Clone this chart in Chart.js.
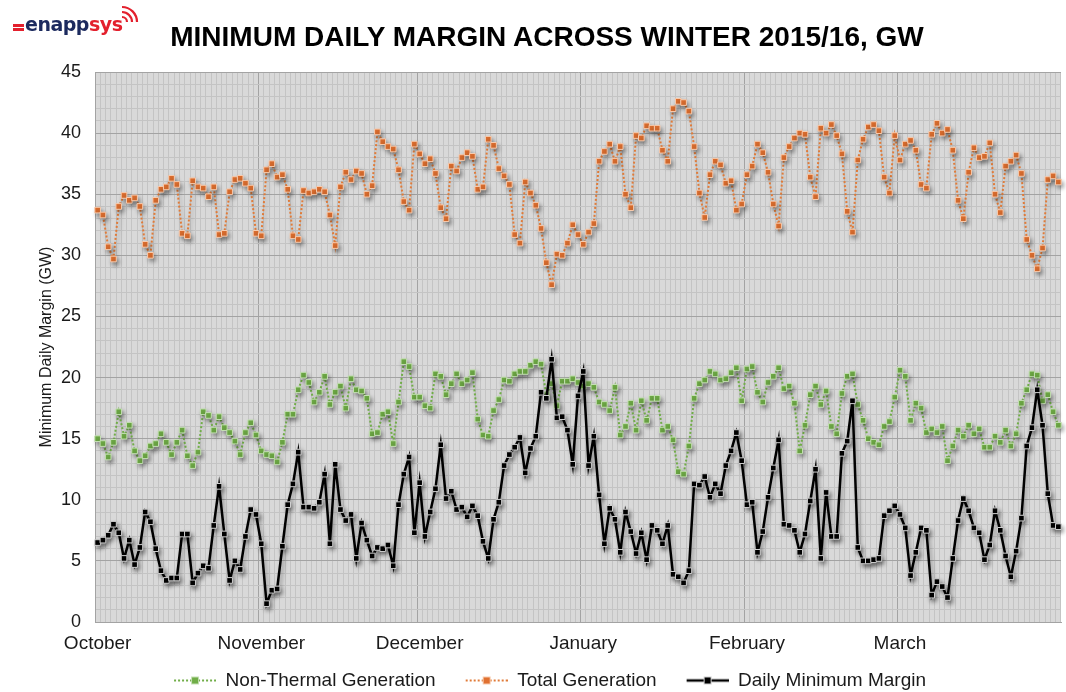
<!DOCTYPE html>
<html>
<head>
<meta charset="utf-8">
<script src="https://cdn.jsdelivr.net/npm/chart.js@4.4.1/dist/chart.umd.min.js"></script>
<style>
  html, body { margin: 0; padding: 0; background: #fff; }
  #wrap { position: relative; width: 1066px; height: 692px; overflow: hidden; }
  #title { position: absolute; left: 28px; top: 21px; width: 1038px; text-align: center;
           font: bold 28px "Liberation Sans", Arial, sans-serif; color: #000; }
  #logo { position: absolute; left: 0; top: 0; width: 150px; height: 45px; }
  #logo .bar { position: absolute; left: 13px; width: 11px; height: 2.5px; background: #e3202d; }
  #logo .txt { position: absolute; left: 25px; top: 13px; font: bold 19px "DejaVu Sans", sans-serif; letter-spacing: -0.5px; }
  #logo .e { color: #1c2a5e; }
  #logo .s { color: #e3202d; }
  #logo svg { position: absolute; left: 102px; top: 0; }
</style>
</head>
<body>
<div id="wrap">
  <canvas id="chart" width="1066" height="692"></canvas>
  <div id="logo">
    <div class="bar" style="top:24px"></div>
    <div class="bar" style="top:28px"></div>
    <div class="txt"><span class="e">enapp</span><span class="s">sys</span></div>
    <svg width="40" height="36" viewBox="0 0 40 36">
      <path d="M20 17 A5 5 0 0 1 25 22" stroke="#e3202d" stroke-width="2.2" fill="none"/>
      <path d="M20 12 A10 10 0 0 1 30 22" stroke="#e3202d" stroke-width="2.2" fill="none"/>
      <path d="M20 7 A15 15 0 0 1 35 22" stroke="#e3202d" stroke-width="2.2" fill="none"/>
    </svg>
  </div>
  <div id="title">MINIMUM DAILY MARGIN ACROSS WINTER 2015/16, GW</div>
</div>
<script>
// meses do inverno 2015/16
const monthNames = ['October', 'November', 'December', 'January', 'February', 'March'];
const monthDays = [31, 30, 31, 31, 29, 31];

// séries (GW), um valor por dia de 1 out a 31 mar
const nonThermal = [
  15.0, 14.6, 13.5, 14.7, 17.2, 15.2, 16.1, 14.0, 13.2, 13.6, 14.4, 14.6, 15.4, 14.7, 13.7, 14.7,
  15.7, 13.6, 12.8, 13.9, 17.2, 16.9, 15.7, 16.8, 15.9, 15.5, 14.8, 13.7, 15.5, 16.3, 15.3,
  14.0, 13.7, 13.6, 13.1, 14.7, 17.0, 17.0, 19.0, 20.2, 19.6, 18.0, 18.8, 20.1, 17.8, 18.8,
  19.3, 17.5, 19.9, 19.0, 18.9, 18.3, 15.4, 15.5, 17.0, 17.2, 14.6, 18.0, 21.3, 20.9, 18.4,
  18.4, 17.7, 17.5, 20.3, 20.1, 18.6, 19.5, 20.3, 19.5, 19.8, 20.4, 16.6, 15.3, 15.2, 17.3,
  18.2, 19.8, 19.7, 20.3, 20.5, 20.5, 21.0, 21.3, 21.1, 18.6, 19.5, 17.7, 19.7, 19.7, 19.9, 19.6,
  19.3, 19.5, 19.2, 18.0, 17.8, 17.3, 19.2, 15.3, 16.0, 17.9, 15.7, 18.1, 16.5, 18.3, 18.3,
  15.7, 16.0, 14.9, 12.3, 12.1, 14.4, 18.3, 19.5, 19.8, 20.5, 20.3, 19.8, 19.9, 20.4, 20.8, 18.1,
  20.7, 20.9, 18.8, 18.0, 19.6, 20.1, 20.8, 19.1, 19.3, 17.9, 14.0, 16.1, 18.6, 19.3, 17.8,
  18.9, 16.0, 15.4, 18.7, 20.1, 20.3, 17.8, 16.5, 15.0, 14.7, 14.5, 16.0, 16.4, 18.4,
  20.6, 20.1, 16.5, 17.9, 17.5, 15.5, 15.8, 15.5, 16.0, 13.2, 14.4, 15.7, 15.2, 16.1, 15.4, 15.8,
  14.3, 14.3, 15.2, 14.7, 15.7, 14.4, 15.4, 17.9, 19.0, 20.3, 20.2, 18.1, 18.6, 17.2, 16.1
];
const totalGen = [
  33.7, 33.3, 30.7, 29.7, 34.0, 34.9, 34.5, 34.7, 34.0, 30.9, 30.0, 34.5, 35.4, 35.6, 36.3, 35.8,
  31.8, 31.6, 36.1, 35.6, 35.5, 34.8, 35.6, 31.7, 31.8, 35.2, 36.2, 36.3, 35.9, 35.5, 31.8,
  31.6, 37.0, 37.5, 36.4, 36.6, 35.4, 31.6, 31.3, 35.3, 35.1, 35.2, 35.4, 35.2, 33.3, 30.8,
  35.6, 36.8, 36.2, 36.9, 36.7, 35.0, 35.7, 40.1, 39.3, 38.9, 38.7, 37.0, 34.4, 33.7, 39.1,
  38.3, 37.5, 37.9, 36.7, 33.9, 33.0, 37.3, 36.9, 38.0, 38.4, 38.1, 35.4, 35.6, 39.5, 39.0,
  37.1, 36.5, 35.8, 31.7, 31.0, 36.0, 35.1, 34.1, 32.2, 29.4, 27.6, 30.1, 30.0, 31.0, 32.5, 31.7,
  30.9, 31.9, 32.6, 37.7, 38.5, 39.1, 37.7, 38.9, 35.0, 33.9, 39.8, 39.6, 40.6, 40.4, 40.4,
  38.6, 37.7, 42.0, 42.6, 42.5, 41.8, 38.9, 35.1, 33.1, 36.6, 37.7, 37.4, 35.9, 36.1, 33.7, 34.2,
  36.6, 37.3, 39.1, 38.4, 36.8, 34.2, 32.4, 38.0, 38.9, 39.6, 40.0, 39.9, 36.4, 34.8, 40.4,
  40.0, 40.7, 39.8, 38.3, 33.6, 31.9, 37.8, 39.5, 40.5, 40.7, 40.2, 36.4, 35.1, 39.8,
  37.8, 39.1, 39.4, 38.6, 35.8, 35.5, 39.9, 40.8, 40.0, 40.3, 38.6, 34.5, 33.0, 36.8, 38.8, 38.0,
  38.1, 39.2, 35.0, 33.5, 37.3, 37.7, 38.2, 36.7, 31.3, 30.0, 28.9, 30.6, 36.2, 36.5, 36.0
];
const dailyMargin = [
  6.5, 6.7, 7.1, 8.0, 7.3, 5.2, 6.7, 4.7, 6.1, 9.0, 8.2, 6.0, 4.2, 3.4, 3.6, 3.6,
  7.2, 7.2, 3.2, 4.0, 4.6, 4.4, 7.9, 11.1, 7.2, 3.4, 5.0, 4.3, 7.0, 9.2, 8.8,
  6.4, 1.5, 2.6, 2.7, 6.2, 9.6, 11.3, 13.9, 9.4, 9.4, 9.3, 9.8, 12.1, 6.4, 12.9,
  9.2, 8.3, 8.8, 5.2, 8.1, 6.7, 5.4, 6.1, 6.0, 6.3, 4.6, 9.6, 12.1, 13.5, 7.3,
  11.4, 7.0, 9.0, 10.9, 14.5, 10.1, 10.7, 9.2, 9.4, 8.6, 9.5, 8.7, 6.6, 5.2, 8.4,
  9.8, 12.8, 13.7, 14.3, 15.1, 12.2, 14.2, 15.2, 18.8, 18.3, 21.5, 16.7, 16.8, 15.7, 12.9, 18.5,
  20.5, 12.8, 15.2, 10.4, 6.4, 9.3, 8.4, 5.7, 9.0, 7.4, 5.6, 7.3, 5.1, 7.9, 7.5,
  6.4, 7.9, 3.9, 3.7, 3.2, 4.2, 11.3, 11.2, 11.9, 10.2, 11.3, 10.5, 12.8, 14.0, 15.5, 13.2,
  9.6, 9.8, 5.7, 7.4, 10.2, 12.6, 14.9, 8.0, 7.9, 7.5, 5.7, 7.2, 9.9, 12.5, 5.2,
  10.6, 7.0, 7.0, 13.8, 14.8, 18.1, 6.1, 5.0, 5.0, 5.1, 5.2, 8.7, 9.1, 9.5,
  8.8, 7.7, 3.8, 5.7, 7.7, 7.5, 2.2, 3.3, 2.9, 2.0, 5.2, 8.3, 10.1, 9.1, 7.7, 7.3,
  5.1, 6.3, 9.1, 7.5, 5.4, 3.7, 5.8, 8.5, 14.4, 15.9, 19.0, 16.1, 10.5, 7.9, 7.8
];

// rótulos diários (categorias)
const dayLabels = [];
const dayOfMonth = [];
const monthOfDay = [];
monthNames.forEach((m, mi) => {
    for (let d = 1; d <= monthDays[mi]; d++) {
        dayLabels.push(d + ' ' + m);
        dayOfMonth.push(d);
        monthOfDay.push(m);
    }
});

const FONT = '"Liberation Sans", Arial, sans-serif';
const TXT = '#1a1a1a';
const minorGrid = '#c4c4c4';
const majorGrid = '#a3a3a3';

// marcador da legenda: linha + quadrado (estilo Excel)
function legendMarker(color, fill, border, dash, width) {
    const c = document.createElement('canvas');
    c.width = 66; c.height = 12;
    const g = c.getContext('2d');
    g.strokeStyle = color;
    g.lineWidth = width;
    g.setLineDash(dash);
    g.beginPath();
    g.moveTo(24, 6); g.lineTo(66, 6);
    g.stroke();
    g.setLineDash([]);
    g.fillStyle = fill;
    g.fillRect(41, 2, 8, 8);
    g.strokeStyle = border;
    g.lineWidth = 1;
    g.strokeRect(41.5, 2.5, 7, 7);
    return c;
}

const plotBg = {
    id: 'plotBg',
    beforeDraw(chart) {
        const { ctx, chartArea: a } = chart;
        ctx.save();
        ctx.fillStyle = '#d9d9d9';
        ctx.fillRect(a.left, a.top, a.right - a.left, a.bottom - a.top);
        ctx.restore();
    }
};

const shadow = {
    id: 'shadow',
    beforeDatasetsDraw(chart) {
        const ctx = chart.ctx;
        ctx.save();
        ctx.shadowColor = 'rgba(0,0,0,0.35)';
        ctx.shadowBlur = 4;
        ctx.shadowOffsetX = 2;
        ctx.shadowOffsetY = 3;
    },
    afterDatasetsDraw(chart) {
        chart.ctx.restore();
    }
};

// desloca a legenda um pouco para a esquerda
const legendShift = {
    id: 'legendShift',
    afterLayout(chart) {
        chart.legend.left -= 11;
        chart.legend.right -= 11;
    }
};

const markers = [
    legendMarker('#70AD47', '#70AD47', '#c5e0b4', [2, 2], 2),
    legendMarker('#E07B39', '#E07030', '#f8cbad', [2, 2], 2),
    legendMarker('#000', '#000', '#cfcfcf', [], 2.5)
];

const ctx = document.getElementById('chart').getContext('2d');
const chart = new Chart(ctx, {
    type: 'line',
    data: {
        labels: dayLabels,
        datasets: [{
            label: 'Non-Thermal Generation',
            data: nonThermal,
            order: 1,
            borderColor: '#70AD47',
            borderWidth: 2,
            borderDash: [2, 2],
            pointStyle: 'rect',
            pointRadius: 4,
            pointBackgroundColor: '#70AD47',
            pointBorderColor: '#c5e0b4',
            pointBorderWidth: 1,
            tension: 0
        }, {
            label: 'Total Generation',
            data: totalGen,
            order: 2,
            borderColor: '#E07B39',
            borderWidth: 2,
            borderDash: [2, 2],
            pointStyle: 'rect',
            pointRadius: 4,
            pointBackgroundColor: '#E07030',
            pointBorderColor: '#f8cbad',
            pointBorderWidth: 1,
            tension: 0
        }, {
            label: 'Daily Minimum Margin',
            data: dailyMargin,
            order: 0,
            borderColor: '#000',
            borderWidth: 2.5,
            pointStyle: 'rect',
            pointRadius: 4,
            pointBackgroundColor: '#000',
            pointBorderColor: '#cfcfcf',
            pointBorderWidth: 1,
            tension: 0
        }]
    },
    options: {
        responsive: false,
        animation: false,
        layout: { padding: { left: 36, right: 4, top: 72, bottom: -8 } },
        plugins: {
            tooltip: { enabled: false },
            legend: {
                position: 'bottom',
                labels: {
                    usePointStyle: true,
                    pointStyleWidth: 66,
                    padding: 6,
                    color: TXT,
                    font: { family: FONT, size: 19 },
                    generateLabels: (c) => c.data.datasets.map((ds, i) => ({
                        text: ds.label,
                        fillStyle: ds.borderColor,
                        strokeStyle: ds.borderColor,
                        lineWidth: 0,
                        hidden: false,
                        datasetIndex: i,
                        pointStyle: markers[i],
                        fontColor: TXT
                    }))
                }
            }
        },
        scales: {
            x: {
                offset: true,
                afterFit: (s) => { s.paddingRight = 0; s.height = 43; },
                border: { display: true, color: majorGrid },
                grid: {
                    offset: true,
                    drawTicks: false,
                    color: (c) => dayOfMonth[c.index] === 1 ? majorGrid : minorGrid
                },
                ticks: {
                    autoSkip: false,
                    maxRotation: 0,
                    padding: 10,
                    color: TXT,
                    font: { family: FONT, size: 19 },
                    callback: (v, i) => dayOfMonth[i] === 1 ? monthOfDay[i] : ''
                }
            },
            y: {
                min: 0,
                max: 45,
                afterFit: (s) => { s.width = 59; },
                border: { display: true, color: majorGrid },
                grid: {
                    drawTicks: false,
                    color: (c) => c.tick && c.tick.value % 5 === 0 ? majorGrid : minorGrid
                },
                ticks: {
                    stepSize: 1,
                    autoSkip: false,
                    padding: 14,
                    color: TXT,
                    font: { family: FONT, size: 18 },
                    callback: (v) => v % 5 === 0 ? v : ''
                },
                title: {
                    display: true,
                    text: 'Minimum Daily Margin (GW)',
                    color: TXT,
                    font: { family: FONT, size: 16 },
                    padding: { top: 1, bottom: 0 }
                }
            }
        }
    },
    plugins: [plotBg, shadow, legendShift]
});
</script>
</body>
</html>
